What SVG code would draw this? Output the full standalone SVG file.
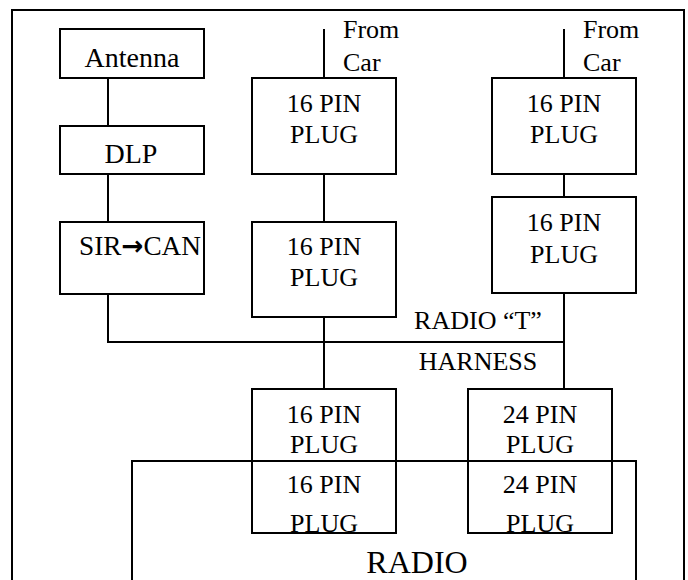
<svg xmlns="http://www.w3.org/2000/svg" width="688" height="580" viewBox="0 0 688 580">
<style>
.b{fill:#fff;stroke:#000;stroke-width:2}
.f{fill:none;stroke:#000;stroke-width:2}
.l{fill:none;stroke:#000;stroke-width:2}
text{font-family:"Liberation Serif","Times New Roman",serif;font-size:26px;fill:#000}
.c{text-anchor:middle}
.big{font-size:28px}
.arr{font-family:"DejaVu Sans",sans-serif;font-size:27px;font-weight:bold}
</style>
<rect width="688" height="580" fill="#fff"/>
<path class="f" d="M12,590 V10 H684 V590"/>
<g id="connectors">
<line class="l" x1="108" y1="78" x2="108" y2="126"/>
<line class="l" x1="108" y1="174" x2="108" y2="222"/>
<polyline class="l" points="108,294 108,342 564,342"/>
<line class="l" x1="324" y1="29" x2="324" y2="78"/>
<line class="l" x1="324" y1="174" x2="324" y2="222"/>
<line class="l" x1="324" y1="317" x2="324" y2="389"/>
<line class="l" x1="564" y1="29" x2="564" y2="78"/>
<line class="l" x1="564" y1="174" x2="564" y2="197"/>
<line class="l" x1="564" y1="293" x2="564" y2="389"/>
</g>
<g id="antenna"><rect class="b" x="60" y="29" width="144" height="49"/><text class="c big" x="132" y="67">Antenna</text></g>
<g id="dlp"><rect class="b" x="60" y="126" width="144" height="48"/><text class="c big" x="131" y="163">DLP</text></g>
<g id="sircan"><rect class="b" x="60" y="222" width="144" height="72"/><text class="big" x="79" y="255" textLength="122" lengthAdjust="spacingAndGlyphs">SIR<tspan class="arr">→</tspan>CAN</text></g>
<g id="from1"><text x="343" y="38">From</text><text x="343" y="71">Car</text></g>
<g id="from2"><text x="583" y="38">From</text><text x="583" y="71">Car</text></g>
<g id="plug16a"><rect class="b" x="252" y="78" width="144" height="96"/><text class="c" x="324" y="112">16 PIN</text><text class="c" x="324" y="143">PLUG</text></g>
<g id="plug16b"><rect class="b" x="252" y="222" width="144" height="95"/><text class="c" x="324" y="255">16 PIN</text><text class="c" x="324" y="286">PLUG</text></g>
<g id="plug16c"><rect class="b" x="492" y="78" width="144" height="96"/><text class="c" x="564" y="112">16 PIN</text><text class="c" x="564" y="143">PLUG</text></g>
<g id="plug16d"><rect class="b" x="492" y="197" width="144" height="96"/><text class="c" x="564" y="231">16 PIN</text><text class="c" x="564" y="263">PLUG</text></g>
<g id="harness"><text class="c" x="478" y="329">RADIO “T”</text><text class="c" x="478" y="370">HARNESS</text></g>
<g id="plug16e"><rect class="b" x="252" y="389" width="144" height="144"/><text class="c" x="324" y="423">16 PIN</text><text class="c" x="324" y="453">PLUG</text></g>
<g id="plug24"><rect class="b" x="468" y="389" width="144" height="144"/><text class="c" x="540" y="423">24 PIN</text><text class="c" x="540" y="453">PLUG</text></g>
<g id="radio">
<path class="f" d="M132,590 V461 H636 V590"/>
<text class="c" x="324" y="493">16 PIN</text><text class="c" x="324" y="532">PLUG</text>
<text class="c" x="540" y="493">24 PIN</text><text class="c" x="540" y="532">PLUG</text>
<text class="c" x="417" y="573" style="font-size:32px">RADIO</text>
</g>
</svg>
